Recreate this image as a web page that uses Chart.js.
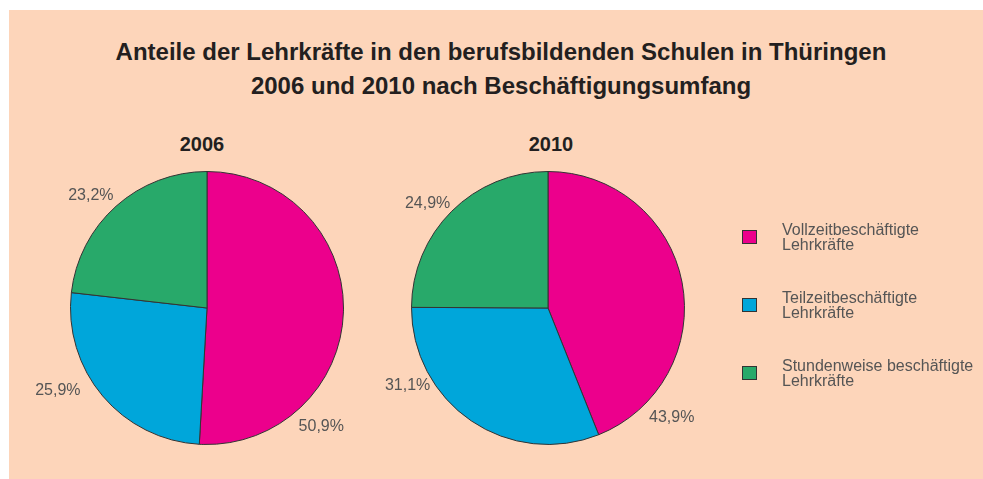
<!DOCTYPE html>
<html lang="de">
<head>
<meta charset="utf-8">
<script src="https://cdn.jsdelivr.net/npm/chart.js@4/dist/chart.umd.min.js"></script>
<style>
    html, body { margin: 0; padding: 0; background: #fff; }
    body { width: 983px; height: 479px; position: relative; overflow: hidden; font-family: "Liberation Sans", Arial, sans-serif; }
    #panel { position: absolute; left: 9px; top: 10px; width: 974px; height: 469px; background: #fdd5ba; }
    #title { position: absolute; left: 0; top: 35px; width: 1002px; text-align: center; font-weight: bold; font-size: 24px; line-height: 34px; color: #231f20; }
    .year { position: absolute; top: 133px; width: 100px; text-align: center; font-weight: bold; font-size: 20px; color: #231f20; }
    .pie { position: absolute; width: 440px; height: 440px; }
    #legend { position: absolute; left: 742px; top: 0; }
    .item { position: absolute; left: 0; width: 240px; }
    .box { position: absolute; left: 0; width: 13px; height: 12px; border: 1px solid #333; }
    .txt { position: absolute; left: 40px; font-size: 16px; line-height: 15px; color: #555; white-space: nowrap; }
</style>
</head>
<body>
<div id="panel"></div>
<div id="title">Anteile der Lehrkräfte in den berufsbildenden Schulen in Thüringen<br>2006 und 2010 nach Beschäftigungsumfang</div>
<div class="year" style="left:152px">2006</div>
<div class="year" style="left:501px">2010</div>
<div class="pie" style="left:-13px; top:88px"><canvas id="pie2006"></canvas></div>
<div class="pie" style="left:328px; top:88px"><canvas id="pie2010"></canvas></div>
<div id="legend"></div>

<script>
// Data
const categories = [
    'Vollzeitbeschäftigte\nLehrkräfte',
    'Teilzeitbeschäftigte\nLehrkräfte',
    'Stundenweise beschäftigte\nLehrkräfte'
];
const values2006 = [50.9, 25.9, 23.2];
const values2010 = [43.9, 31.1, 24.9];
const colors = ['#ec008c', '#00a6da', '#28a96a'];

// Label placement around each pie (degrees clockwise from 3 o'clock, distance beyond the rim)
const labelLayout2006 = { angles: [46, 151, 224], extra: [28, 34, 25] };
const labelLayout2010 = { angles: [41.6, 151, 221], extra: [29, 24, 23] };

const fmt = v => v.toFixed(1).replace('.', ',') + '%';

// Draw percentage labels outside the slices
const outsideLabels = {
    id: 'outsideLabels',
    afterDatasetsDraw(chart, args, opts) {
        const { ctx } = chart;
        const meta = chart.getDatasetMeta(0);
        const data = chart.data.datasets[0].data;
        ctx.save();
        ctx.font = '16px "Liberation Sans", Arial, sans-serif';
        ctx.fillStyle = '#555';
        ctx.textAlign = 'center';
        ctx.textBaseline = 'middle';
        meta.data.forEach((arc, i) => {
            const a = opts.layout.angles[i] * Math.PI / 180;
            const d = arc.outerRadius + opts.layout.extra[i];
            ctx.fillText(fmt(data[i]), arc.x + Math.cos(a) * d, arc.y + Math.sin(a) * d);
        });
        ctx.restore();
    }
};

function createPie(id, values, layout) {
    return new Chart(document.getElementById(id), {
        type: 'pie',
        data: {
            labels: categories,
            datasets: [{
                data: values,
                backgroundColor: colors,
                borderColor: '#333',
                borderWidth: 1
            }]
        },
        options: {
            responsive: true,
            maintainAspectRatio: false,
            animation: false,
            layout: { padding: 83 },
            plugins: {
                legend: { display: false },
                tooltip: { enabled: false },
                outsideLabels: { layout }
            }
        },
        plugins: [outsideLabels]
    });
}

createPie('pie2006', values2006, labelLayout2006);
createPie('pie2010', values2010, labelLayout2010);

// Legend
const legendTops = [230, 298, 366];
const legend = document.getElementById('legend');
categories.forEach((label, i) => {
    const item = document.createElement('div');
    item.className = 'item';
    item.style.top = legendTops[i] + 'px';
    item.innerHTML = `<div class="box" style="background:${colors[i]}"></div>` +
        `<div class="txt" style="top:-8px">${label.replace('\n', '<br>')}</div>`;
    legend.appendChild(item);
});
</script>
</body>
</html>
